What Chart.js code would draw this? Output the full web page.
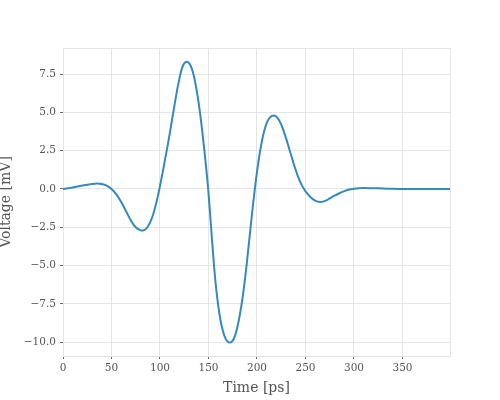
<!DOCTYPE html>
<html>
<head>
<meta charset="utf-8">
<script src="https://cdn.jsdelivr.net/npm/chart.js@4/dist/chart.umd.min.js"></script>
<style>
  html, body { margin: 0; padding: 0; background: #fff; }
  #wrap { width: 500px; height: 400px; }
</style>
</head>
<body>
<div id="wrap"><canvas id="pulseChart" width="500" height="400"></canvas></div>
<script>
// Pulse waveform
const timePs = [
    0, 10, 20, 30, 35, 40, 45, 50, 55, 60, 65, 70, 75,
    80, 82.5, 85, 87.5, 90, 92.5, 95, 97.5, 100, 102.5, 105, 107.5, 110, 112.5, 115, 117.5, 120, 122.5, 125,
    127.6, 130, 132.5, 135, 137.5, 140, 142.5, 145, 147.5, 150, 152.5, 155, 157.5, 160, 162.5, 165, 167.5, 170,
    172.5, 175, 177.5, 180, 182.5, 185, 187.5, 190, 192.5, 195, 197.5, 200, 202.5, 205, 207.5, 210, 212.5, 215,
    217.7, 220, 222.5, 225, 227.5, 230, 232.5, 235, 237.5, 240, 242.5, 245, 247.5, 250,
    255, 260, 265, 270, 275, 280, 285, 290, 295, 300, 305, 310, 320, 330, 340, 350, 360, 370, 380, 390, 399
];
const voltageMv = [
    0, 0.1, 0.22, 0.32, 0.35, 0.32, 0.22, 0.0, -0.35, -0.85, -1.45, -2.05, -2.5,
    -2.7, -2.71, -2.63, -2.45, -2.15, -1.75, -1.2, -0.55, 0.2, 1.0, 1.85, 2.7, 3.6, 4.55, 5.48, 6.4, 7.2, 7.85, 8.2,
    8.3, 8.21, 7.9, 7.35, 6.55, 5.55, 4.35, 2.95, 1.45, -0.25, -2.35, -4.45, -6.25, -7.6, -8.6, -9.3, -9.75, -9.97,
    -10.02, -9.9, -9.55, -8.95, -8.15, -7.15, -5.95, -4.55, -3.05, -1.55, -0.15, 1.1, 2.2, 3.1, 3.8, 4.3, 4.6, 4.75,
    4.8, 4.72, 4.52, 4.2, 3.78, 3.3, 2.78, 2.25, 1.72, 1.22, 0.78, 0.4, 0.1, -0.15,
    -0.52, -0.76, -0.85, -0.78, -0.62, -0.44, -0.28, -0.14, -0.04, 0.02, 0.05, 0.06, 0.05, 0.03, 0.01, 0, 0, 0, 0, 0, 0
];
const xTicks = [0, 50, 100, 150, 200, 250, 300, 350];
const yTicks = [-10, -7.5, -5, -2.5, 0, 2.5, 5, 7.5];

const fontFamily = '"DejaVu Serif", serif';
const labelColor = '#555555';
const gridColor = '#e5e5e5';

// draws the light frame on top/right of the plot area
const frameBox = {
    id: 'frameBox',
    beforeDatasetsDraw(chart) {
        const { ctx, chartArea: a } = chart;
        ctx.save();
        ctx.strokeStyle = gridColor;
        ctx.lineWidth = 1;
        ctx.strokeRect(a.left + 0.5, a.top + 0.5, a.right - a.left, a.bottom - a.top);
        ctx.restore();
    }
};

new Chart(document.getElementById('pulseChart'), {
    type: 'line',
    data: {
        datasets: [{
            data: timePs.map((t, i) => ({ x: t, y: voltageMv[i] })),
            borderColor: '#348abd',
            borderWidth: 2,
            pointRadius: 0,
            fill: false,
            tension: 0.4
        }]
    },
    options: {
        responsive: false,
        animation: false,
        layout: { padding: { top: 48, right: 50, left: 0, bottom: 0 } },
        plugins: {
            legend: { display: false },
            tooltip: { enabled: false }
        },
        scales: {
            x: {
                type: 'linear',
                min: 0,
                max: 399,
                afterFit: (scale) => { scale.height = 44; },
                afterBuildTicks: (scale) => { scale.ticks = xTicks.map((v) => ({ value: v })); },
                grid: { color: gridColor, tickColor: '#666', tickLength: 3 },
                border: { color: gridColor },
                ticks: {
                    color: labelColor,
                    font: { family: fontFamily, size: 10.5 },
                    padding: 3,
                    maxRotation: 0,
                    callback: (v) => String(v)
                },
                title: {
                    display: true,
                    text: 'Time [ps]',
                    color: labelColor,
                    font: { family: fontFamily, size: 14 },
                    padding: { top: 0, bottom: 3 }
                }
            },
            y: {
                min: -10.9,
                max: 9.2,
                afterFit: (scale) => { scale.width = 63; },
                afterBuildTicks: (scale) => { scale.ticks = yTicks.map((v) => ({ value: v })); },
                grid: { color: gridColor, tickColor: '#666', tickLength: 3 },
                border: { color: gridColor },
                ticks: {
                    color: labelColor,
                    font: { family: fontFamily, size: 10.5 },
                    padding: 4,
                    callback: (v) => v.toFixed(1).replace('-', '\u2212')
                },
                title: {
                    display: true,
                    text: 'Voltage [mV]',
                    color: labelColor,
                    font: { family: fontFamily, size: 14 },
                    padding: { top: -2, bottom: 0 }
                }
            }
        }
    },
    plugins: [frameBox]
});
</script>
</body>
</html>
